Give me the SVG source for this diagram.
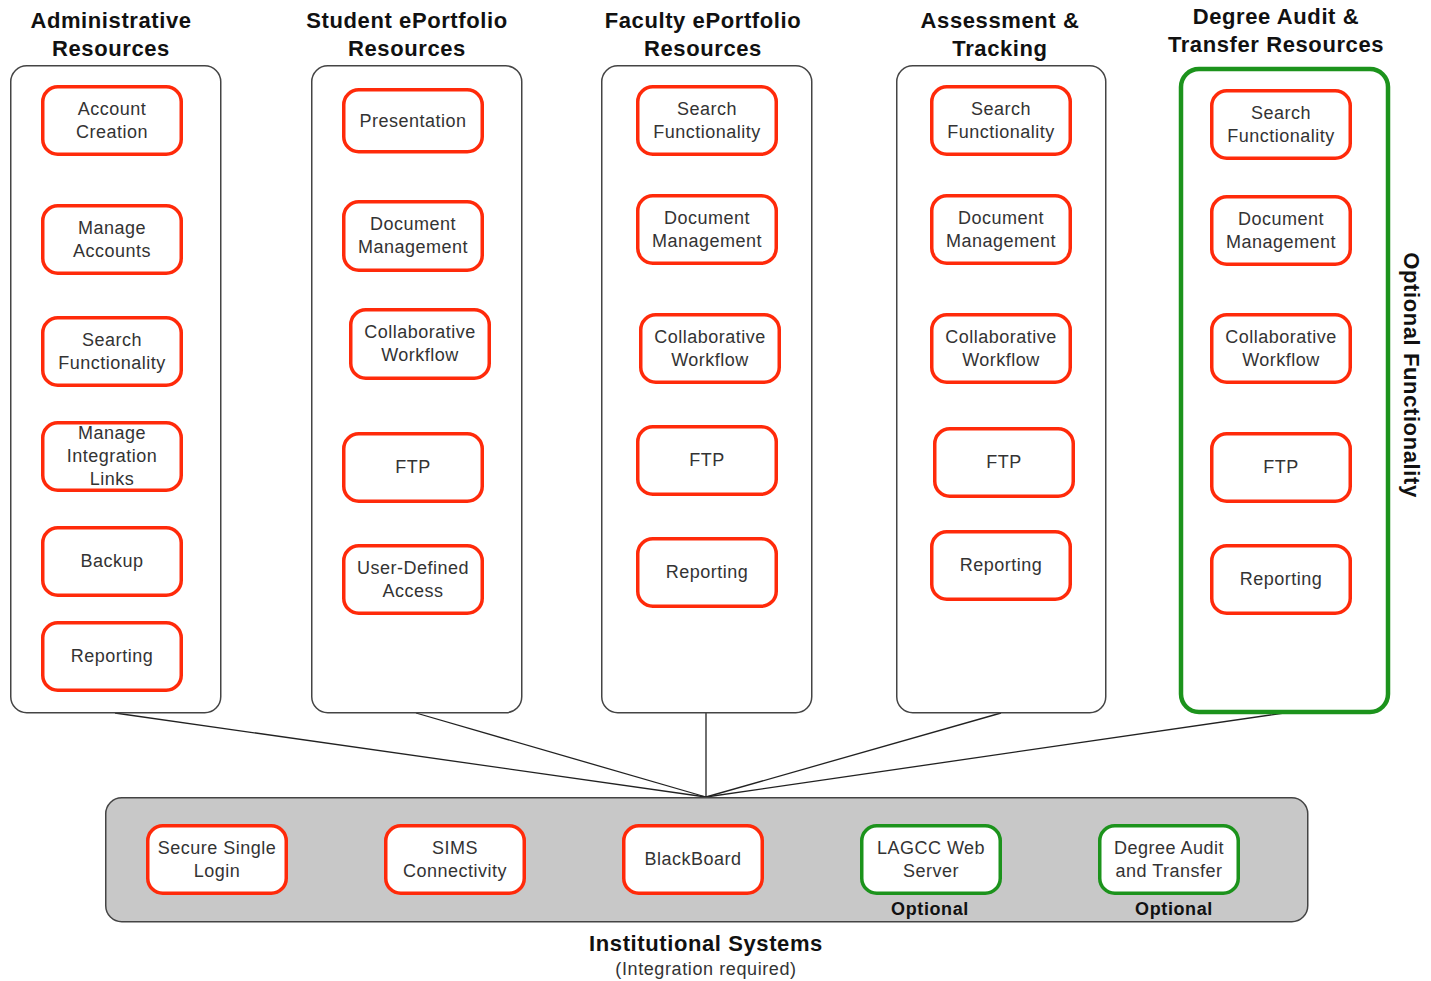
<svg xmlns="http://www.w3.org/2000/svg" width="1431" height="981" viewBox="0 0 1431 981">
<style>
.col{fill:#fff;stroke:#444;stroke-width:1.5}
.colg{fill:#fff;stroke:#1c931c;stroke-width:4.5}
.n{fill:#fff;stroke:#ff2a0a;stroke-width:3.5}
.ng{fill:#fff;stroke:#1c931c;stroke-width:3.5}
.t{font-family:"Liberation Sans",Arial,sans-serif;font-size:18px;letter-spacing:0.5px;fill:#333;text-anchor:middle}
.h{font-family:"Liberation Sans",Arial,sans-serif;font-size:22px;font-weight:bold;letter-spacing:0.6px;fill:#111;text-anchor:middle}
.o{font-family:"Liberation Sans",Arial,sans-serif;font-size:18px;font-weight:bold;letter-spacing:0.6px;fill:#111;text-anchor:middle}
.c{stroke:#222;stroke-width:1.3;fill:none}
</style>
<rect width="1431" height="981" fill="#fff"/>
<g id="connectors">
<line class="c" x1="115" y1="713" x2="706" y2="797"/>
<line class="c" x1="416" y1="713" x2="706" y2="797"/>
<line class="c" x1="706" y1="713" x2="706" y2="797"/>
<line class="c" x1="1001" y1="713" x2="706" y2="797"/>
<line class="c" x1="1284" y1="713" x2="706" y2="797"/>
</g>
<g id="col-admin">
<rect class="col" x="10.75" y="65.75" width="210" height="647" rx="16"/>
<text class="h" x="111" y="28">Administrative</text>
<text class="h" x="111" y="56">Resources</text>
</g>
<g id="col-student">
<rect class="col" x="311.75" y="65.75" width="210" height="647" rx="16"/>
<text class="h" x="407" y="28">Student ePortfolio</text>
<text class="h" x="407" y="56">Resources</text>
</g>
<g id="col-faculty">
<rect class="col" x="601.75" y="65.75" width="210" height="647" rx="16"/>
<text class="h" x="703" y="28">Faculty ePortfolio</text>
<text class="h" x="703" y="56">Resources</text>
</g>
<g id="col-assess">
<rect class="col" x="896.75" y="65.75" width="209" height="647" rx="16"/>
<text class="h" x="1000" y="28">Assessment &amp;</text>
<text class="h" x="1000" y="56">Tracking</text>
</g>
<g id="col-degree">
<rect class="colg" x="1181" y="69" width="207" height="643" rx="18"/>
<text class="h" x="1276" y="24">Degree Audit &amp;</text>
<text class="h" x="1276" y="52">Transfer Resources</text>
<text class="h" transform="translate(1404,375) rotate(90)" x="0" y="0">Optional Functionality</text>
</g>
<g id="institutional">
<rect x="105.75" y="797.75" width="1202" height="124" rx="16" fill="#c8c8c8" stroke="#444" stroke-width="1.5"/>
<text class="h" x="706" y="951">Institutional Systems</text>
<text class="t" x="706" y="975" style="letter-spacing:0.6px">(Integration required)</text>
</g>

<g id="a1"><rect class="n" x="42.75" y="86.75" width="138.5" height="67.5" rx="15"/><text class="t" x="112" y="114.5">Account<tspan x="112" dy="23">Creation</tspan></text></g>
<g id="a2"><rect class="n" x="42.75" y="205.75" width="138.5" height="67.5" rx="15"/><text class="t" x="112" y="233.5">Manage<tspan x="112" dy="23">Accounts</tspan></text></g>
<g id="a3"><rect class="n" x="42.75" y="317.75" width="138.5" height="67.5" rx="15"/><text class="t" x="112" y="345.5">Search<tspan x="112" dy="23">Functionality</tspan></text></g>
<g id="a4"><rect class="n" x="42.75" y="422.75" width="138.5" height="67.5" rx="15"/><text class="t" x="112" y="439">Manage<tspan x="112" dy="23">Integration</tspan><tspan x="112" dy="23">Links</tspan></text></g>
<g id="a5"><rect class="n" x="42.75" y="527.75" width="138.5" height="67.5" rx="15"/><text class="t" x="112" y="567">Backup</text></g>
<g id="a6"><rect class="n" x="42.75" y="622.75" width="138.5" height="67.5" rx="15"/><text class="t" x="112" y="662">Reporting</text></g>

<g id="s1"><rect class="n" x="343.75" y="89.75" width="138.5" height="62" rx="15"/><text class="t" x="413" y="127">Presentation</text></g>
<g id="s2"><rect class="n" x="343.75" y="201.75" width="138.5" height="68.5" rx="15"/><text class="t" x="413" y="230">Document<tspan x="413" dy="23">Management</tspan></text></g>
<g id="s3"><rect class="n" x="350.75" y="309.75" width="138.5" height="68.5" rx="15"/><text class="t" x="420" y="338">Collaborative<tspan x="420" dy="23">Workflow</tspan></text></g>
<g id="s4"><rect class="n" x="343.75" y="433.75" width="138.5" height="67.5" rx="15"/><text class="t" x="413" y="473">FTP</text></g>
<g id="s5"><rect class="n" x="343.75" y="545.75" width="138.5" height="67.5" rx="15"/><text class="t" x="413" y="573.5">User-Defined<tspan x="413" dy="23">Access</tspan></text></g>

<g id="f1"><rect class="n" x="637.75" y="86.75" width="138.5" height="67.5" rx="15"/><text class="t" x="707" y="114.5">Search<tspan x="707" dy="23">Functionality</tspan></text></g>
<g id="f2"><rect class="n" x="637.75" y="195.75" width="138.5" height="67.5" rx="15"/><text class="t" x="707" y="223.5">Document<tspan x="707" dy="23">Management</tspan></text></g>
<g id="f3"><rect class="n" x="640.75" y="314.75" width="138.5" height="67.5" rx="15"/><text class="t" x="710" y="342.5">Collaborative<tspan x="710" dy="23">Workflow</tspan></text></g>
<g id="f4"><rect class="n" x="637.75" y="426.75" width="138.5" height="67.5" rx="15"/><text class="t" x="707" y="466">FTP</text></g>
<g id="f5"><rect class="n" x="637.75" y="538.75" width="138.5" height="67.5" rx="15"/><text class="t" x="707" y="578">Reporting</text></g>

<g id="t1"><rect class="n" x="931.75" y="86.75" width="138.5" height="67.5" rx="15"/><text class="t" x="1001" y="114.5">Search<tspan x="1001" dy="23">Functionality</tspan></text></g>
<g id="t2"><rect class="n" x="931.75" y="195.75" width="138.5" height="67.5" rx="15"/><text class="t" x="1001" y="223.5">Document<tspan x="1001" dy="23">Management</tspan></text></g>
<g id="t3"><rect class="n" x="931.75" y="314.75" width="138.5" height="67.5" rx="15"/><text class="t" x="1001" y="342.5">Collaborative<tspan x="1001" dy="23">Workflow</tspan></text></g>
<g id="t4"><rect class="n" x="934.75" y="428.75" width="138.5" height="67.5" rx="15"/><text class="t" x="1004" y="468">FTP</text></g>
<g id="t5"><rect class="n" x="931.75" y="531.75" width="138.5" height="67.5" rx="15"/><text class="t" x="1001" y="571">Reporting</text></g>

<g id="d1"><rect class="n" x="1211.75" y="90.75" width="138.5" height="67.5" rx="15"/><text class="t" x="1281" y="118.5">Search<tspan x="1281" dy="23">Functionality</tspan></text></g>
<g id="d2"><rect class="n" x="1211.75" y="196.75" width="138.5" height="67.5" rx="15"/><text class="t" x="1281" y="224.5">Document<tspan x="1281" dy="23">Management</tspan></text></g>
<g id="d3"><rect class="n" x="1211.75" y="314.75" width="138.5" height="67.5" rx="15"/><text class="t" x="1281" y="342.5">Collaborative<tspan x="1281" dy="23">Workflow</tspan></text></g>
<g id="d4"><rect class="n" x="1211.75" y="433.75" width="138.5" height="67.5" rx="15"/><text class="t" x="1281" y="473">FTP</text></g>
<g id="d5"><rect class="n" x="1211.75" y="545.75" width="138.5" height="67.5" rx="15"/><text class="t" x="1281" y="585">Reporting</text></g>

<g id="i1"><rect class="n" x="147.75" y="825.75" width="138.5" height="67.5" rx="15"/><text class="t" x="217" y="853.5">Secure Single<tspan x="217" dy="23">Login</tspan></text></g>
<g id="i2"><rect class="n" x="385.75" y="825.75" width="138.5" height="67.5" rx="15"/><text class="t" x="455" y="853.5">SIMS<tspan x="455" dy="23">Connectivity</tspan></text></g>
<g id="i3"><rect class="n" x="623.75" y="825.75" width="138.5" height="67.5" rx="15"/><text class="t" x="693" y="865">BlackBoard</text></g>
<g id="i4"><rect class="ng" x="861.75" y="825.75" width="138.5" height="67.5" rx="15"/><text class="t" x="931" y="853.5">LAGCC Web<tspan x="931" dy="23">Server</tspan></text><text class="o" x="930" y="914.5">Optional</text></g>
<g id="i5"><rect class="ng" x="1099.75" y="825.75" width="138.5" height="67.5" rx="15"/><text class="t" x="1169" y="853.5">Degree Audit<tspan x="1169" dy="23">and Transfer</tspan></text><text class="o" x="1174" y="914.5">Optional</text></g>
</svg>
